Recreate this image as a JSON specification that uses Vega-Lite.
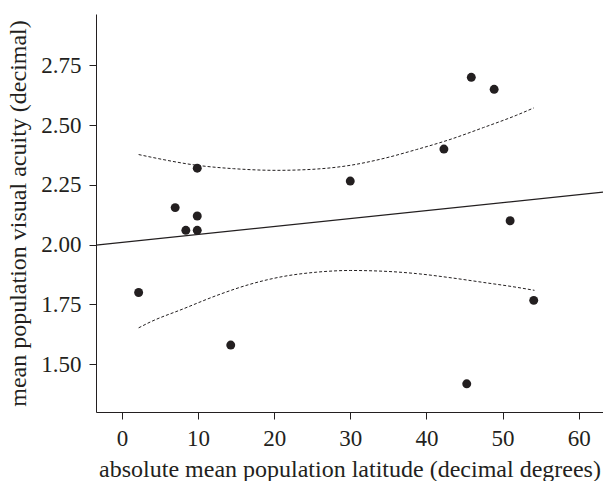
{
  "$schema": "https://vega.github.io/schema/vega-lite/v6.json",
  "width": 507,
  "height": 398,
  "autosize": "none",
  "padding": {"left": 96, "top": 14, "right": 0, "bottom": 69},
  "config": {
    "view": {"stroke": null},
    "font": "Liberation Serif",
    "axis": {
      "grid": false,
      "domainColor": "#231f20",
      "domainWidth": 1,
      "tickColor": "#231f20",
      "tickWidth": 1,
      "tickSize": 7,
      "labelFont": "Liberation Serif",
      "labelFontSize": 23,
      "labelColor": "#231f20",
      "labelFlush": false,
      "titleFont": "Liberation Serif",
      "titleFontSize": 24,
      "titleFontWeight": "normal",
      "titleColor": "#231f20"
    }
  },
  "datasets": {
    "points": [
      {"lat": 2.2, "acuity": 1.80},
      {"lat": 7.0, "acuity": 2.155},
      {"lat": 8.4, "acuity": 2.06},
      {"lat": 9.9, "acuity": 2.06},
      {"lat": 9.9, "acuity": 2.12},
      {"lat": 9.9, "acuity": 2.32},
      {"lat": 14.3, "acuity": 1.58},
      {"lat": 30.0, "acuity": 2.266},
      {"lat": 42.3, "acuity": 2.40},
      {"lat": 45.3, "acuity": 1.418},
      {"lat": 45.9, "acuity": 2.70},
      {"lat": 48.9, "acuity": 2.65},
      {"lat": 51.0, "acuity": 2.10},
      {"lat": 54.1, "acuity": 1.767}
    ],
    "fit": [
      {"lat": -3.4, "acuity": 1.998},
      {"lat": 63.2, "acuity": 2.220}
    ],
    "upper": [
      {"lat": 2.2, "acuity": 2.377},
      {"lat": 3.7, "acuity": 2.367},
      {"lat": 9.9, "acuity": 2.332},
      {"lat": 14.65, "acuity": 2.318},
      {"lat": 20.3, "acuity": 2.311},
      {"lat": 24.3, "acuity": 2.314},
      {"lat": 30.0, "acuity": 2.332},
      {"lat": 34.3, "acuity": 2.360},
      {"lat": 38.7, "acuity": 2.398},
      {"lat": 43.1, "acuity": 2.44},
      {"lat": 47.5, "acuity": 2.49},
      {"lat": 51.8, "acuity": 2.541},
      {"lat": 54.1, "acuity": 2.572}
    ],
    "lower": [
      {"lat": 2.2, "acuity": 1.652},
      {"lat": 3.7, "acuity": 1.676},
      {"lat": 8.1, "acuity": 1.732},
      {"lat": 12.5, "acuity": 1.788},
      {"lat": 16.8, "acuity": 1.834},
      {"lat": 21.2, "acuity": 1.867},
      {"lat": 25.6, "acuity": 1.885},
      {"lat": 30.0, "acuity": 1.892},
      {"lat": 34.3, "acuity": 1.889},
      {"lat": 38.7, "acuity": 1.879},
      {"lat": 43.1, "acuity": 1.862},
      {"lat": 47.5, "acuity": 1.842},
      {"lat": 51.8, "acuity": 1.822},
      {"lat": 54.2, "acuity": 1.809}
    ]
  },
  "encoding": {
    "x": {
      "field": "lat",
      "type": "quantitative",
      "scale": {"domain": [-3.4, 63.2], "nice": false, "zero": false},
      "axis": {
        "title": "absolute mean population latitude (decimal degrees)",
        "values": [0, 10, 20, 30, 40, 50, 60],
        "labelPadding": 8,
        "titlePadding": 7
      }
    },
    "y": {
      "field": "acuity",
      "type": "quantitative",
      "scale": {"domain": [1.30, 2.965], "nice": false, "zero": false},
      "axis": {
        "title": "mean population visual acuity (decimal)",
        "values": [1.5, 1.75, 2.0, 2.25, 2.5, 2.75],
        "format": ".2f",
        "labelPadding": 8,
        "titlePadding": 10
      }
    }
  },
  "layer": [
    {
      "data": {"name": "fit"},
      "mark": {"type": "line", "color": "#231f20", "strokeWidth": 1.2}
    },
    {
      "data": {"name": "upper"},
      "mark": {"type": "line", "color": "#231f20", "strokeWidth": 1, "strokeDash": [3, 2], "interpolate": "monotone"}
    },
    {
      "data": {"name": "lower"},
      "mark": {"type": "line", "color": "#231f20", "strokeWidth": 1, "strokeDash": [3, 2], "interpolate": "monotone"}
    },
    {
      "data": {"name": "points"},
      "mark": {"type": "circle", "color": "#231f20", "opacity": 1, "size": 80}
    }
  ]
}
